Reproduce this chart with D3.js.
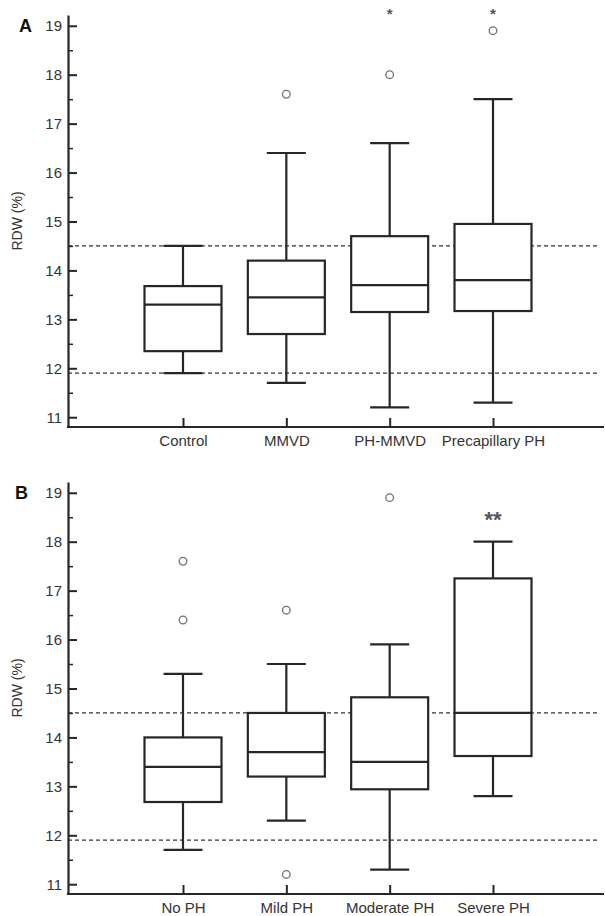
<!DOCTYPE html>
<html>
<head>
<meta charset="utf-8">
<script src="https://cdnjs.cloudflare.com/ajax/libs/d3/7.8.5/d3.min.js"></script>
<style>
body { margin:0; background:#fff; }
text { font-family: "Liberation Sans", Arial, sans-serif; }
</style>
</head>
<body>
<svg></svg>
<script>
// panel A
var groupsA = ["Control","MMVD","PH-MMVD","Precapillary PH"];
var lowA  = [11.9, 11.7, 11.2, 11.3];
var q1A   = [12.35, 12.7, 13.15, 13.17];
var medA  = [13.3, 13.45, 13.7, 13.8];
var q3A   = [13.68, 14.2, 14.7, 14.95];
var highA = [14.5, 16.4, 16.6, 17.5];
var outA  = [[], [17.6], [18.0], [18.9]];
var sigA  = ["", "", "*", "*"];

// panel B
var groupsB = ["No PH","Mild PH","Moderate PH","Severe PH"];
var lowB  = [11.7, 12.3, 11.3, 12.8];
var q1B   = [12.68, 13.2, 12.94, 13.62];
var medB  = [13.4, 13.7, 13.5, 14.5];
var q3B   = [14.0, 14.5, 14.82, 17.25];
var highB = [15.3, 15.5, 15.9, 18.0];
var outB  = [[17.6, 16.4], [16.6, 11.2], [18.9], []];
var sigB  = ["", "", "", "**"];

var refLines = [14.5, 11.9];
var yTicks = [11,12,13,14,15,16,17,18,19];
var yMinor = [11.5,12.5,13.5,14.5,15.5,16.5,17.5,18.5];

var screen = {width:605,height:916}
var frame = {left:68, right:604, firstX:183, lastX:493, refEnd:598}

var svg = d3.select("svg")
    .attr("width",screen.width)
    .attr("height",screen.height);

var drawPanel = function(p)
{
    var g = svg.append("g");

    var yScale = d3.scaleLinear()
        .domain([10.8,19.22])
        .range([p.bottom,p.top]);

    var xScale = d3.scalePoint()
        .domain(p.groups)
        .range([frame.firstX,frame.lastX]);

    var boxW = 77, capW = 39;
    var ink = "#262626";

    // reference lines
    g.selectAll(".ref")
        .data(refLines)
        .enter()
        .append("line")
        .attr("x1",frame.left)
        .attr("x2",frame.refEnd)
        .attr("y1",function(d){return yScale(d);})
        .attr("y2",function(d){return yScale(d);})
        .attr("stroke","#333")
        .attr("stroke-width",1.3)
        .attr("stroke-dasharray","4,3");

    var rows = p.groups.map(function(name,i){
        return {name:name, low:p.low[i], q1:p.q1[i], med:p.med[i], q3:p.q3[i],
                high:p.high[i], out:p.out[i], sig:p.sig[i]};
    });

    var box = g.selectAll(".box")
        .data(rows)
        .enter()
        .append("g")
        .attr("transform",function(d){return "translate("+xScale(d.name)+",0)";});

    box.append("line")
        .attr("y1",function(d){return yScale(d.low);})
        .attr("y2",function(d){return yScale(d.high);})
        .attr("stroke",ink).attr("stroke-width",2.2);

    box.selectAll(".cap")
        .data(function(d){return [d.low,d.high];})
        .enter()
        .append("line")
        .attr("x1",-capW/2).attr("x2",capW/2)
        .attr("y1",function(d){return yScale(d);})
        .attr("y2",function(d){return yScale(d);})
        .attr("stroke",ink).attr("stroke-width",2.2);

    box.append("rect")
        .attr("x",-boxW/2)
        .attr("width",boxW)
        .attr("y",function(d){return yScale(d.q3);})
        .attr("height",function(d){return yScale(d.q1)-yScale(d.q3);})
        .attr("fill","#fff")
        .attr("stroke",ink).attr("stroke-width",2.2);

    box.append("line")
        .attr("x1",-boxW/2).attr("x2",boxW/2)
        .attr("y1",function(d){return yScale(d.med);})
        .attr("y2",function(d){return yScale(d.med);})
        .attr("stroke",ink).attr("stroke-width",2.2);

    box.selectAll("circle")
        .data(function(d){return d.out;})
        .enter()
        .append("circle")
        .attr("r",3.8)
        .attr("cy",function(d){return yScale(d);})
        .attr("fill","none")
        .attr("stroke","#707070")
        .attr("stroke-width",1.3);

    box.append("text")
        .attr("y",yScale(p.sigAt)+ p.sigSize*0.55)
        .attr("text-anchor","middle")
        .attr("font-size",p.sigSize)
        .attr("font-weight","bold")
        .attr("fill","#555")
        .text(function(d){return d.sig;});

    // y axis
    var yAxis = d3.axisLeft(yScale)
        .tickValues(yTicks)
        .tickSizeInner(-9)
        .tickSizeOuter(0)
        .tickPadding(6);

    var ya = g.append("g")
        .attr("transform","translate("+frame.left+",0)")
        .call(yAxis);
    ya.select(".domain").attr("stroke",ink).attr("stroke-width",2.2);
    ya.selectAll(".tick line").attr("stroke",ink).attr("stroke-width",2);
    ya.selectAll("text").attr("font-size",15).attr("fill","#333")
        .attr("font-family","Liberation Sans, Arial, sans-serif");

    var yMin = d3.axisLeft(yScale)
        .tickValues(yMinor)
        .tickSizeInner(-5)
        .tickSizeOuter(0)
        .tickFormat("");
    var ym = g.append("g")
        .attr("transform","translate("+frame.left+",0)")
        .call(yMin);
    ym.select(".domain").remove();
    ym.selectAll(".tick line").attr("stroke",ink).attr("stroke-width",1.5);

    // x axis
    var xAxis = d3.axisBottom(xScale)
        .tickSizeInner(-9)
        .tickSizeOuter(0)
        .tickPadding(8);
    var xa = g.append("g")
        .attr("transform","translate(0,"+p.bottom+")")
        .call(xAxis);
    xa.select(".domain").remove();
    xa.selectAll(".tick line").attr("stroke",ink).attr("stroke-width",2);
    xa.selectAll("text").attr("font-size",15).attr("fill","#333")
        .attr("font-family","Liberation Sans, Arial, sans-serif");
    xa.append("line")
        .attr("x1",frame.left-1.1).attr("x2",frame.right)
        .attr("stroke",ink).attr("stroke-width",2.2);

    // labels
    g.append("text")
        .attr("transform","translate(22,"+((p.top+p.bottom)/2)+") rotate(-90)")
        .attr("text-anchor","middle")
        .attr("font-size",14)
        .attr("fill","#333")
        .text("RDW (%)");

    g.append("text")
        .attr("x",p.letterX)
        .attr("y",yScale(19)+6.5)
        .attr("font-size",18)
        .attr("font-weight","bold")
        .attr("fill","#111")
        .text(p.letter);
}

drawPanel({letter:"A", letterX:19, top:15, bottom:427, groups:groupsA,
    low:lowA, q1:q1A, med:medA, q3:q3A, high:highA, out:outA, sig:sigA,
    sigAt:19.31, sigSize:15});

drawPanel({letter:"B", letterX:15, top:482, bottom:894, groups:groupsB,
    low:lowB, q1:q1B, med:medB, q3:q3B, high:highB, out:outB, sig:sigB,
    sigAt:18.55, sigSize:22});
</script>
</body>
</html>
